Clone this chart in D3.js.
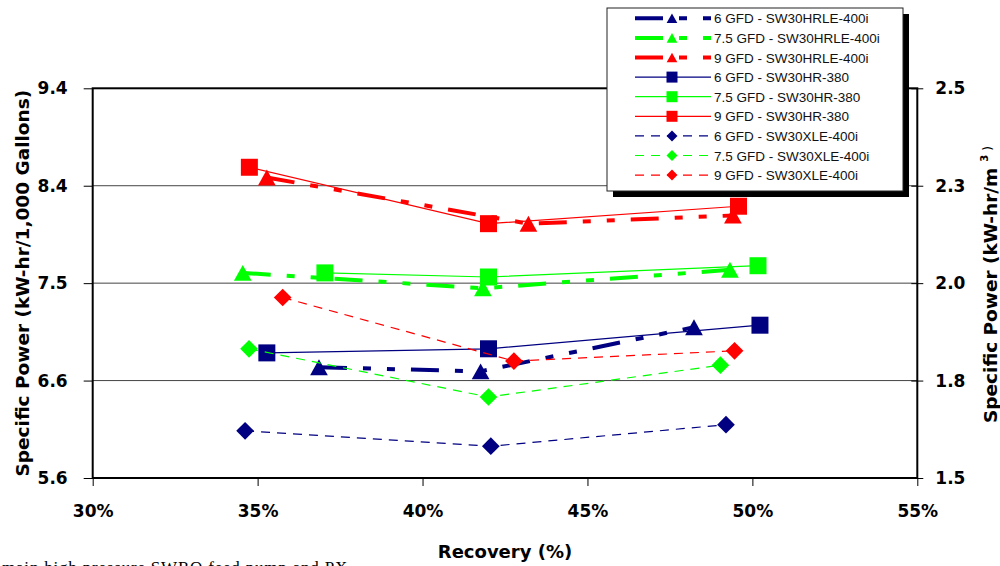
<!DOCTYPE html>
<html lang="en">
    <head>
        <meta charset="utf-8">
        <title>Specific Power vs Recovery</title>
        <script src="https://d3js.org/d3.v7.min.js"></script>
        <style>
            body { margin: 0; background: #fff; }
            svg { display: block; overflow: hidden; }
        </style>
    </head>
    <body>
        <div id="chart"></div>
        <script>
            // series, in legend order
            var seriesNames = [
                "6 GFD - SW30HRLE-400i", "7.5 GFD - SW30HRLE-400i", "9 GFD - SW30HRLE-400i",
                "6 GFD - SW30HR-380", "7.5 GFD - SW30HR-380", "9 GFD - SW30HR-380",
                "6 GFD - SW30XLE-400i", "7.5 GFD - SW30XLE-400i", "9 GFD - SW30XLE-400i"
            ];
            // recovery (%)
            var recoveryPct = [
                [36.86, 41.76, 48.23],
                [34.55, 41.83, 49.32],
                [35.28, 43.21, 49.41],
                [35.28, 42.0, 50.23],
                [37.04, 42.0, 50.17],
                [34.75, 42.0, 49.58],
                [34.62, 42.07, 49.2],
                [34.74, 42.0, 49.03],
                [35.76, 42.77, 49.46]
            ];
            // specific power (kW-hr/1,000 gal)
            var specificPower = [
                [6.68, 6.64, 7.07],
                [7.60, 7.45, 7.63],
                [8.53, 8.08, 8.16],
                [6.82, 6.86, 7.09],
                [7.60, 7.56, 7.67],
                [8.63, 8.08, 8.25],
                [6.06, 5.91, 6.12],
                [6.86, 6.39, 6.70],
                [7.36, 6.74, 6.84]
            ];
            var xTicks = [30, 35, 40, 45, 50, 55];
            var yLeftTicks = [5.6, 6.55, 7.5, 8.45, 9.4];
            var yLeftLabels = ["5.6", "6.6", "7.5", "8.4", "9.4"];
            var yRightTicks = [1.5, 1.75, 2.0, 2.25, 2.5];
            var yRightLabels = ["1.5", "1.8", "2.0", "2.3", "2.5"];

            var colors = ["#000080", "#00ff00", "#ff0000"];

            // membrane type -> look
            var looks = {
                HRLE: {width: 4, dash: "28,16,8,16,8,16", shape: "triangle"},
                HR:   {width: 1.2, dash: null, shape: "square"},
                XLE:  {width: 1.2, dash: "9,7", shape: "diamond"}
            };
            var typeOf = ["HRLE", "HRLE", "HRLE", "HR", "HR", "HR", "XLE", "XLE", "XLE"];

            var W = 1000, H = 566;
            var margin = {top: 88.3, left: 92.7, right: 82.7, bottom: 88};
            var plotW = W - margin.left - margin.right,
                plotH = H - margin.top - margin.bottom;

            var svg = d3.select("#chart").append("svg")
                        .attr("width", W)
                        .attr("height", H);
            svg.append("rect").attr("width", W).attr("height", H).attr("fill", "#fff");

            var g = svg.append("g")
                       .attr("transform", "translate(" + margin.left + "," + margin.top + ")");

            var x = d3.scaleLinear().domain([30, 55]).range([0, plotW]);
            var y = d3.scaleLinear().domain([5.6, 9.4]).range([plotH, 0]);
            var y2 = d3.scaleLinear().domain([1.5, 2.5]).range([plotH, 0]);

            // gridlines
            g.selectAll(".grid")
             .data(yLeftTicks.slice(1, 4))
             .enter().append("line")
             .attr("x1", 0).attr("x2", plotW)
             .attr("y1", function(d) { return y(d); })
             .attr("y2", function(d) { return y(d); })
             .attr("stroke", "#444")
             .attr("stroke-width", 1);

            var tickFont = "'DejaVu Sans', sans-serif";

            // left axis
            var axL = g.append("g")
                       .call(d3.axisLeft(y).tickValues(yLeftTicks)
                               .tickFormat(function(d, i) { return yLeftLabels[i]; })
                               .tickSize(9).tickPadding(16));
            // right axis
            var axR = g.append("g")
                       .attr("transform", "translate(" + plotW + ",0)")
                       .call(d3.axisRight(y2).tickValues(yRightTicks)
                               .tickFormat(function(d, i) { return yRightLabels[i]; })
                               .tickSize(6).tickPadding(12));
            axR.selectAll(".tick line").attr("x1", -6);
            // bottom axis
            var axB = g.append("g")
                       .attr("transform", "translate(0," + plotH + ")")
                       .call(d3.axisBottom(x).tickValues(xTicks)
                               .tickFormat(function(d) { return d + "%"; })
                               .tickSize(8).tickPadding(19));

            [axL, axR, axB].forEach(function(a) {
                a.select(".domain").remove();
                a.selectAll(".tick line").attr("stroke", "#000").attr("stroke-width", 1);
                a.selectAll("text")
                 .attr("fill", "#000")
                 .style("font-family", tickFont)
                 .style("font-weight", "bold")
                 .style("font-size", "17px");
            });

            // plot frame
            g.append("rect")
             .attr("width", plotW).attr("height", plotH)
             .attr("fill", "none")
             .attr("stroke", "#000")
             .attr("stroke-width", 2);

            // marker shapes
            var triangle = {
                draw: function(ctx, size) {
                    var w = Math.sqrt(size), h = w * 0.9;
                    ctx.moveTo(0, -h / 2);
                    ctx.lineTo(w / 2, h / 2);
                    ctx.lineTo(-w / 2, h / 2);
                    ctx.closePath();
                }
            };
            var diamond = {
                draw: function(ctx, size) {
                    var r = Math.sqrt(size) / 2;
                    ctx.moveTo(0, -r);
                    ctx.lineTo(r, 0);
                    ctx.lineTo(0, r);
                    ctx.lineTo(-r, 0);
                    ctx.closePath();
                }
            };
            function shapeOf(name) {
                if (name === "triangle") return triangle;
                if (name === "diamond") return diamond;
                return d3.symbolSquare;
            }
            var markerSize = {triangle: 17.7 * 17.7, square: 17 * 17, diamond: 17.7 * 17.7};
            var legendMarkerSize = {triangle: 10.7 * 10.7, square: 11 * 11, diamond: 11 * 11};

            var line = d3.line()
                         .x(function(d) { return x(d[0]); })
                         .y(function(d) { return y(d[1]); });

            seriesNames.forEach(function(name, i) {
                var look = looks[typeOf[i]];
                var col = colors[i % 3];
                var pts = recoveryPct[i].map(function(r, j) { return [r, specificPower[i][j]]; });
                var sg = g.append("g").attr("class", "series");
                sg.append("path")
                  .attr("d", line(pts))
                  .attr("fill", "none")
                  .attr("stroke", col)
                  .attr("stroke-width", look.width)
                  .attr("stroke-dasharray", look.dash);
                sg.selectAll("path.mk")
                  .data(pts).enter().append("path")
                  .attr("class", "mk")
                  .attr("transform", function(d) { return "translate(" + x(d[0]) + "," + y(d[1]) + ")"; })
                  .attr("d", d3.symbol().type(shapeOf(look.shape)).size(markerSize[look.shape]))
                  .attr("fill", col);
            });

            // axis titles
            var titleFont = "'DejaVu Sans', sans-serif";
            svg.append("text")
               .attr("x", margin.left + plotW / 2)
               .attr("y", 558)
               .attr("text-anchor", "middle")
               .style("font-family", titleFont)
               .style("font-weight", "bold")
               .style("font-size", "18px")
               .text("Recovery (%)");

            svg.append("text")
               .attr("transform", "translate(29," + (margin.top + plotH / 2) + ") rotate(-90)")
               .attr("text-anchor", "middle")
               .style("font-family", titleFont)
               .style("font-weight", "bold")
               .style("font-size", "18.5px")
               .text("Specific Power (kW-hr/1,000 Gallons)");

            var rt = svg.append("text")
               .attr("transform", "translate(997,423) rotate(-90)")
               .style("font-family", titleFont)
               .style("font-weight", "bold")
               .style("font-size", "18.5px");
            rt.append("tspan").text("Specific Power (kW-hr/m");
            rt.append("tspan").attr("dx", 6).attr("dy", -9).style("font-size", "10px").text("3");
            rt.append("tspan").attr("dx", 4).attr("dy", 4).style("font-size", "12px").style("font-weight", "normal").text(")");

            // legend
            var lg = svg.append("g").attr("transform", "translate(607,8)");
            var lgW = 296, lgH = 183;
            lg.append("rect")
              .attr("x", 6).attr("y", 6)
              .attr("width", lgW).attr("height", lgH)
              .attr("fill", "#000");
            lg.append("rect")
              .attr("width", lgW).attr("height", lgH)
              .attr("fill", "#fff")
              .attr("stroke", "#222")
              .attr("stroke-width", 1);

            seriesNames.forEach(function(name, i) {
                var look = looks[typeOf[i]];
                var col = colors[i % 3];
                var row = lg.append("g").attr("transform", "translate(0," + (10.3 + i * 19.6) + ")");
                row.append("line")
                   .attr("x1", 28).attr("x2", 104)
                   .attr("stroke", col)
                   .attr("stroke-width", look.width === 4 ? 4 : 1.2)
                   .attr("stroke-dasharray", look.dash);
                row.append("path")
                   .attr("transform", "translate(65,0)")
                   .attr("d", d3.symbol().type(shapeOf(look.shape)).size(legendMarkerSize[look.shape]))
                   .attr("fill", col);
                row.append("text")
                   .attr("x", 107)
                   .attr("y", 5)
                   .style("font-family", "'Liberation Sans', Arial, sans-serif")
                   .style("font-size", "13.5px")
                   .attr("fill", "#111")
                   .text(name);
            });

            // footnote, cut by the bottom edge
            svg.append("text")
               .attr("x", 2)
               .attr("y", 573)
               .style("font-family", "'Liberation Serif', serif")
               .style("font-size", "17px")
               .style("letter-spacing", "0.8px")
               .text("main high pressure SWRO feed pump and PX");
        </script>
    </body>
</html>
